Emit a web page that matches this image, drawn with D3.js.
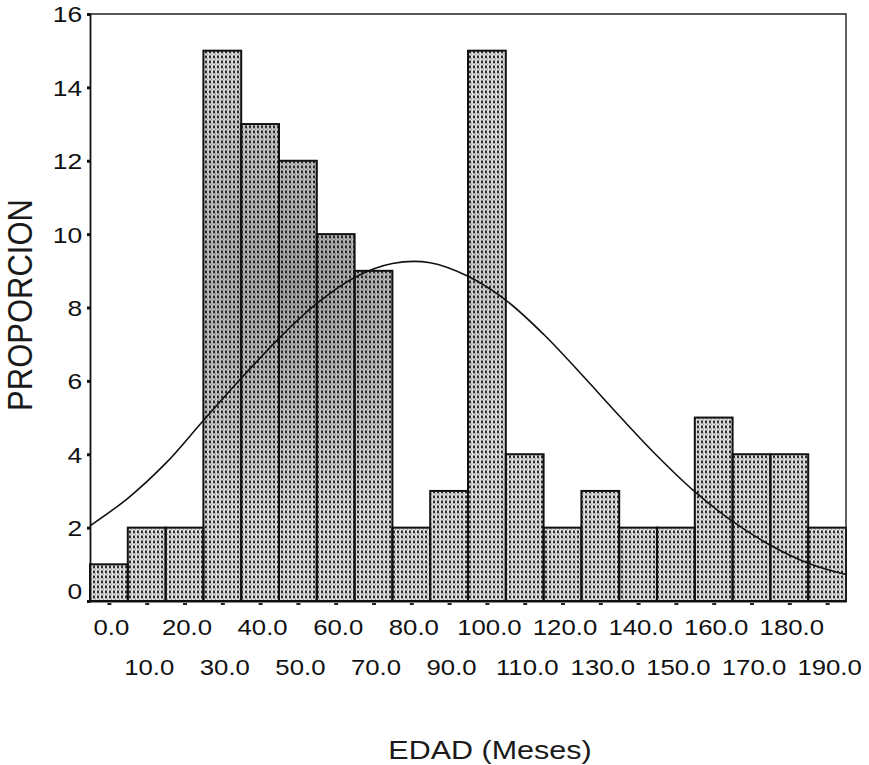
<!DOCTYPE html>
<html lang="es">
<head>
<meta charset="UTF-8">
<title>EDAD (Meses)</title>
<script src="https://d3js.org/d3.v7.min.js"></script>
<style>
  body { margin: 0; padding: 0; background: #fff; }
  svg { display: block; font-family: "Liberation Sans", Arial, sans-serif; }
  .tick-label { font-size: 22px; fill: #111; }
  .title { fill: #1a1a1a; }
</style>
</head>
<body>
<div id="chart"></div>
<script>
// bins (centros de clase, meses)
const binCenters = [0, 10, 20, 30, 40, 50, 60, 70, 80, 90, 100, 110, 120, 130, 140, 150, 160, 170, 180, 190];
const binLabels = ["0.0", "10.0", "20.0", "30.0", "40.0", "50.0", "60.0", "70.0", "80.0", "90.0",
                   "100.0", "110.0", "120.0", "130.0", "140.0", "150.0", "160.0", "170.0", "180.0", "190.0"];
const proportion = [1, 2, 2, 15, 13, 12, 10, 9, 2, 3, 15, 4, 2, 3, 2, 2, 5, 4, 4, 2];
const yTicks = [0, 2, 4, 6, 8, 10, 12, 14, 16];

// curva normal
const curveX = [-5, 5, 15, 25, 35, 45, 55, 65, 75, 85, 95, 105, 115, 125, 135, 145, 155, 165, 175, 185, 195];
const curveY = [2.05, 2.8, 3.75, 4.92, 6.07, 7.16, 8.11, 8.82, 9.2, 9.22, 8.85, 8.2, 7.27, 6.18, 5.05, 3.96, 2.98, 2.17, 1.52, 1.03, 0.72];

const width = 869, height = 765;
const binWidth = 10;

const svg = d3.select("#chart").append("svg")
  .attr("width", width)
  .attr("height", height);

const x = d3.scaleLinear().domain([-5, 195]).range([90, 846]);
const y = d3.scaleLinear().domain([0, 16]).range([601, 14]);

// textura punteada de las barras
const defs = svg.append("defs");
const pat = defs.append("pattern")
  .attr("id", "stipple")
  .attr("patternUnits", "userSpaceOnUse")
  .attr("width", 4)
  .attr("height", 5);
pat.append("rect").attr("width", 4).attr("height", 5).attr("fill", "#dedede");
pat.append("rect").attr("x", 1).attr("y", 0.5).attr("width", 2).attr("height", 2.8).attr("fill", "#2e2e2e");
pat.append("rect").attr("x", 3).attr("y", 3.6).attr("width", 0.9).attr("height", 1.1).attr("fill", "#7a7a7a");

// sombreado irregular del escaneo (zona central mas oscura)
const shade = defs.append("radialGradient")
  .attr("id", "shade")
  .attr("gradientUnits", "userSpaceOnUse")
  .attr("cx", 300).attr("cy", 280).attr("r", 240);
shade.append("stop").attr("offset", "0%").attr("stop-color", "#000").attr("stop-opacity", 0.26);
shade.append("stop").attr("offset", "55%").attr("stop-color", "#000").attr("stop-opacity", 0.12);
shade.append("stop").attr("offset", "100%").attr("stop-color", "#000").attr("stop-opacity", 0);

const barX = (d, i) => x(binCenters[i] - binWidth / 2);
const barW = (d, i) => x(binCenters[i] + binWidth / 2) - x(binCenters[i] - binWidth / 2);

// barras
const bars = svg.append("g");
bars.selectAll("rect.fill")
  .data(proportion)
  .join("rect")
  .attr("class", "fill")
  .attr("x", barX)
  .attr("y", d => y(d))
  .attr("width", barW)
  .attr("height", d => y(0) - y(d))
  .attr("fill", "url(#stipple)");
bars.selectAll("rect.shade")
  .data(proportion)
  .join("rect")
  .attr("class", "shade")
  .attr("x", barX)
  .attr("y", d => y(d))
  .attr("width", barW)
  .attr("height", d => y(0) - y(d))
  .attr("fill", "url(#shade)")
  .attr("stroke", "#111")
  .attr("stroke-width", 2);

// curva normal
const line = d3.line()
  .x((d, i) => x(curveX[i]))
  .y(d => y(d))
  .curve(d3.curveCatmullRom);

svg.append("path")
  .datum(curveY)
  .attr("d", line)
  .attr("fill", "none")
  .attr("stroke", "#111")
  .attr("stroke-width", 1.6);

// marco superior y derecho
svg.append("path")
  .attr("d", `M${x(-5)},${y(16)}H${x(195)}V${y(0)}`)
  .attr("fill", "none")
  .attr("stroke", "#222")
  .attr("stroke-width", 1.4);

// eje Y
const yAxis = svg.append("g")
  .attr("transform", `translate(${x(-5)},0)`)
  .call(d3.axisLeft(y).tickValues(yTicks).tickSize(3).tickPadding(5).tickFormat(d3.format("d")));
yAxis.select(".domain").attr("stroke", "#111").attr("stroke-width", 1.8);
yAxis.selectAll(".tick line").attr("stroke", "#111").attr("stroke-width", 3);
yAxis.selectAll(".tick text")
  .attr("class", "tick-label")
  .attr("font-family", null)
  .attr("font-size", null)
  .attr("dy", d => d === 0 ? "-0.1em" : "0.36em")
  .attr("transform", "scale(1.2,1)")
  .attr("x", -6.5);

// eje X
const xAxis = svg.append("g")
  .attr("transform", `translate(0,${y(0)})`)
  .call(d3.axisBottom(x).tickValues(binCenters).tickSize(0).tickFormat((d, i) => binLabels[i]));
xAxis.select(".domain").attr("stroke", "#111").attr("stroke-width", 1.8);
xAxis.selectAll(".tick").append("rect")
  .attr("x", -2).attr("y", 2).attr("width", 4).attr("height", 2).attr("fill", "#222");
xAxis.selectAll(".tick text")
  .attr("class", "tick-label")
  .attr("font-family", null)
  .attr("font-size", null)
  .attr("dy", null)
  .attr("y", 0)
  .attr("transform", (d, i) => `translate(2,${i % 2 === 0 ? 34 : 74}) scale(1.17,1)`);

// titulos
svg.append("text")
  .attr("class", "title")
  .attr("transform", "translate(490,759) scale(1.22,1)")
  .attr("text-anchor", "middle")
  .attr("font-size", 25)
  .text("EDAD (Meses)");

svg.append("text")
  .attr("class", "title")
  .attr("transform", "translate(32,305) rotate(-90) scale(1,1.12)")
  .attr("text-anchor", "middle")
  .attr("font-size", 31)
  .text("PROPORCION");
</script>
</body>
</html>
